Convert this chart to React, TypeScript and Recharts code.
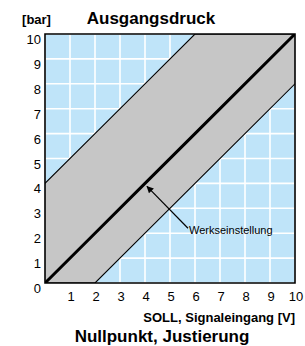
import React from 'react';
import {
  ComposedChart, Area, Line, XAxis, YAxis, CartesianGrid,
  ReferenceArea, ReferenceLine, ReferenceDot,
} from 'recharts';

// Signal input [V] at which the band edges change
const signal = [0, 2, 4, 6, 10];
// Upper / lower limits of the adjustable range [bar]
const upperLimit = [4, 6, 8, 10, 10];
const lowerLimit = [0, 0, 2, 4, 8];
// Factory setting [bar]
const factory = [0, 2, 4, 6, 10];

const xTicks = [1, 2, 3, 4, 5, 6, 7, 8, 9, 10];
const yTicks = [0, 1, 2, 3, 4, 5, 6, 7, 8, 9, 10];

// Annotation (data coordinates)
const arrowFrom = { x: 5.72, y: 2.2 };
const arrowTo = { x: 4.08, y: 3.88 };
const noteAnchor = { x: 5.76, y: 1.96 };
const noteText = 'Werkseinstellung';

const data = signal.map((x, i) => ({
  x,
  band: [lowerLimit[i], upperLimit[i]],
  upper: upperLimit[i],
  lower: lowerLimit[i],
  factory: factory[i],
}));

const FONT = '"Liberation Sans", Arial, Helvetica, sans-serif';

const XTick = (p: any) => (
  <text x={p.x + 1} y={p.y + 18} textAnchor="middle" fontSize={13} fill="#000" fontFamily={FONT}>
    {p.payload.value}
  </text>
);
const YTick = (p: any) => (
  <text x={p.x - 4} y={p.y + 10} textAnchor="end" fontSize={13} fill="#000" fontFamily={FONT}>
    {p.payload.value}
  </text>
);

export default function App() {
  return (
    <div style={{ position: 'absolute', left: 0, top: 0, width: 305, height: 346, background: '#fff' }}>
      <ComposedChart
        width={305}
        height={346}
        data={data}
        margin={{ top: 34, right: 10, left: 0, bottom: 33 }}
        style={{ fontFamily: FONT }}
      >
        <defs>
          <marker id="arrowHead" viewBox="0 0 10 10" refX="9" refY="5" markerUnits="userSpaceOnUse"
            markerWidth="9" markerHeight="7" orient="auto">
            <path d="M0,0 L10,5 L0,10 z" fill="#000" />
          </marker>
        </defs>
        <CartesianGrid fill="#bfe4f9" stroke="#ffffff" strokeWidth={1.6} strokeOpacity={1} />
        <XAxis
          dataKey="x" type="number" domain={[0, 10]} ticks={xTicks} height={30}
          tickLine={false} axisLine={false} tickSize={0} tickMargin={0}
          tick={XTick} interval={0} allowDataOverflow
        />
        <YAxis
          type="number" domain={[0, 10]} ticks={yTicks} width={45}
          tickLine={false} axisLine={false} tickSize={0} tickMargin={0}
          tick={YTick} interval={0} allowDataOverflow
        />
        <Area dataKey="band" type="linear" fill="#c6c6c6" fillOpacity={1} stroke="none" isAnimationActive={false} />
        <Line dataKey="upper" type="linear" stroke="#000" strokeWidth={1.1} dot={false} isAnimationActive={false} />
        <Line dataKey="lower" type="linear" stroke="#000" strokeWidth={1.1} dot={false} isAnimationActive={false} />
        <Line dataKey="factory" type="linear" stroke="#000" strokeWidth={3} dot={false} isAnimationActive={false} />
        <ReferenceArea x1={0} x2={10} y1={0} y2={10} fill="none" stroke="#000" strokeWidth={1.6} />
        <ReferenceLine
          segment={[arrowFrom, arrowTo]}
          stroke="#000" strokeWidth={1.2} markerEnd="url(#arrowHead)"
        />
        <ReferenceDot
          x={noteAnchor.x} y={noteAnchor.y} r={0}
          shape={(p: any) => (
            <text x={p.cx} y={p.cy} fontSize={11} fill="#000" fontFamily={FONT}>{noteText}</text>
          )}
        />
        <text x={36.5} y={24} textAnchor="middle" fontSize={13} fontWeight="bold" fill="#000" fontFamily={FONT}>[bar]</text>
        <text x={151} y={24} textAnchor="middle" fontSize={17} fontWeight="bold" fill="#000" fontFamily={FONT}>Ausgangsdruck</text>
        <text x={295} y={322} textAnchor="end" fontSize={13} fontWeight="bold" fill="#000" fontFamily={FONT}>SOLL, Signaleingang [V]</text>
        <text x={162} y={342} textAnchor="middle" fontSize={17} fontWeight="bold" fill="#000" fontFamily={FONT}>Nullpunkt, Justierung</text>
      </ComposedChart>
    </div>
  );
}
